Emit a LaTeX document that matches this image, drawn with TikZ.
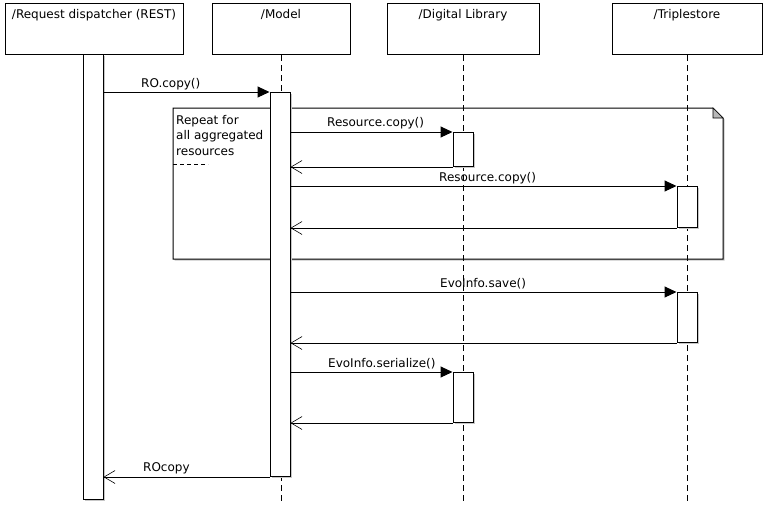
\documentclass[tikz,border=0pt]{standalone}
\usepackage{fontspec}
\setmainfont{DejaVu Sans}
\usetikzlibrary{arrows.meta,calc}
\begin{document}
\begin{tikzpicture}[x=1pt,y=-1pt,
 every node/.style={font=\fontsize{12pt}{15.5pt}\selectfont},
 head/.style={draw, line width=1pt, fill=white, inner sep=0, minimum height=51pt, anchor=north},
 bar/.style={draw, line width=1pt, fill=white, inner sep=0, minimum width=20pt, anchor=north,
   preaction={fill=black!22, transform canvas={xshift=1.5pt,yshift=-1.5pt}}},
 life/.style={line width=1pt, dash pattern=on 6pt off 4pt},
 call/.style={line width=1pt, -{Triangle[length=12pt,width=11pt]}},
 ret/.style={line width=1pt, -{Straight Barb[length=11pt,width=13pt,line width=0.6pt]}},
 lbl/.style={inner sep=0, anchor=base west},
 htext/.style={inner sep=0, anchor=base},
]
\useasboundingbox[fill=white] (0,0) rectangle (766,504);
\coordinate (bottom) at (0,504);

% header boxes
\node[head, minimum width=178pt] (hreq) at (94,3) {};
\node[head, minimum width=138pt] (hmod) at (281,3) {};
\node[head, minimum width=152pt] (hdl) at (463,3) {};
\node[head, minimum width=150pt] (hts) at (687,3) {};
\node[htext] (treq) at ([yshift=-15pt]hreq.north) {/Request dispatcher (REST)};
\node[htext] (tmod) at ([yshift=-15pt]hmod.north) {/Model};
\node[htext] (tdl) at ([yshift=-15pt]hdl.north) {/Digital Library};
\node[htext] (tts) at ([yshift=-15pt]hts.north) {/Triplestore};

% loop note
\draw[line width=1pt, fill=white, preaction={fill=black!22, transform canvas={xshift=1.5pt,yshift=-1.5pt}}]
  (173,108) -- (713,108) -- (723,118) -- (723,259) -- (173,259) -- cycle;
\draw[line width=0.6pt, fill=black!28] (713,108) -- (713,118) -- (723,118) -- cycle;
\node[inner sep=0, anchor=north west, align=left] (notetext) at (176,115) {Repeat for\\all aggregated\\resources};
\draw[line width=1pt, dash pattern=on 4pt off 3pt] (173,164) -- (208,164);

% lifelines
\draw[life] (hmod.south) -- (hmod.south |- bottom);
\draw[life] (hdl.south) -- (hdl.south |- bottom);
\draw[life] (hts.south) -- (hts.south |- bottom);

% activation bars
\node[bar, minimum height=445pt] (rbar) at (93,54) {};
\node[bar, minimum height=384pt] (mbar) at (280,92) {};
\node[bar, minimum height=34pt] (dl1) at (463,132) {};
\node[bar, minimum height=41pt] (ts1) at (687,186) {};
\node[bar, minimum height=50pt] (ts2) at (687,292) {};
\node[bar, minimum height=50pt] (dl2) at (463,372) {};

% messages
\draw[call] (rbar.east |- mbar.north) -- (mbar.north west);
\draw[call] (mbar.east |- dl1.north) -- (dl1.north west);
\draw[ret] (dl1.south west) -- (mbar.east |- dl1.south);
\draw[call] (mbar.east |- ts1.north) -- (ts1.north west);
\draw[ret] (ts1.south west) -- (mbar.east |- ts1.south);
\draw[call] (mbar.east |- ts2.north) -- (ts2.north west);
\draw[ret] (ts2.south west) -- (mbar.east |- ts2.south);
\draw[call] (mbar.east |- dl2.north) -- (dl2.north west);
\draw[ret] (dl2.south west) -- (mbar.east |- dl2.south);
\draw[ret] (mbar.south west) -- (rbar.east |- mbar.south);

% labels
\node[lbl] (l1) at (141,87) {RO.copy()};
\node[lbl] (l2) at (327,126) {Resource.copy()};
\node[lbl] (l3) at (439,181) {Resource.copy()};
\node[lbl] (l4) at (440,287) {EvoInfo.save()};
\node[lbl] (l5) at (328,367) {EvoInfo.serialize()};
\node[lbl] (l6) at (143,471) {ROcopy};
\end{tikzpicture}
\end{document}
